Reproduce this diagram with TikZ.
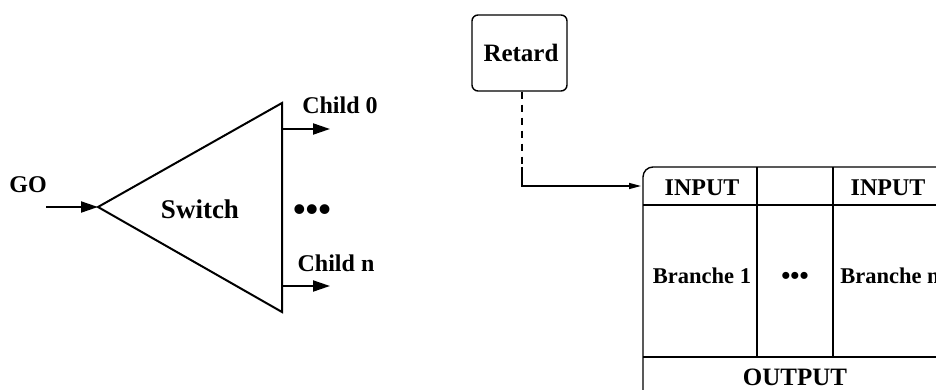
\documentclass[tikz,border=0pt]{standalone}
\usepackage{fontspec}
\setmainfont{Liberation Serif}
\usetikzlibrary{arrows.meta,positioning}
\begin{document}
\begin{tikzpicture}[x=1pt, y=-1pt, line width=1.4pt,
    lbl/.style={font=\bfseries\fontsize{24}{28}\selectfont, inner sep=0pt, anchor=base},
    bigarrow/.style={line width=2pt, -{Triangle[length=17pt, width=11pt]}},
    smallarrow/.style={line width=1.4pt, -{Triangle[length=12pt, width=6pt]}}]
  \useasboundingbox (0,0) rectangle (936,390);
  \clip (0,0) rectangle (936,390);
  % switch
  \coordinate (tritop) at (282,103);
  \coordinate (triapex) at (98,207);
  \coordinate (tribot) at (282,312);
  \draw[line width=2pt, line join=miter] (tritop) -- (triapex) -- (tribot) -- cycle;
  \node[lbl, font=\bfseries\fontsize{27}{30}\selectfont] (switch) at (200,218) {Switch};
  \node[lbl] (go) at (28,193) {GO};
  \coordinate (goin) at (46,207);
  \draw[bigarrow] (goin) -- (triapex);
  \coordinate (out0) at (282,129);
  \coordinate (outn) at (282,286);
  \node[lbl] (child0) at (340,114) {Child 0};
  \node[lbl] (childn) at (336,271) {Child n};
  \coordinate (end0) at (330,129);
  \coordinate (endn) at (330,286);
  \draw[bigarrow] (out0) -- (end0);
  \draw[bigarrow] (outn) -- (endn);
  \node[lbl, font=\bfseries\fontsize{36}{40}\selectfont] (dotsl) at (312,221) {•••};
  % retard
  \node[draw, rounded corners=6pt, minimum width=95pt, minimum height=76pt, inner sep=0pt] (retard) at (519.5,53) {};
  \node[lbl, font=\bfseries\fontsize{25}{28}\selectfont] (retardtxt) at (521,62) {Retard};
  \coordinate (dashend) at (522,167);
  \coordinate (bend) at (522,186);
  \coordinate (boxin) at (641,186);
  \draw[dash pattern=on 7pt off 6pt] (retard.south -| dashend) -- (dashend);
  \draw[smallarrow] (dashend) -- (bend) -- (boxin);
  % branches
  \draw[rounded corners=10pt] (643,400) -- (643,167) -- (960,167);
  \draw (643,205) -- (960,205);
  \draw (643,357) -- (960,357);
  \draw (757,167) -- (757,357);
  \draw (833,167) -- (833,357);
  \node[lbl] (input1) at (702,195) {INPUT};
  \node[lbl] (inputn) at (888,195) {INPUT};
  \node[lbl, font=\bfseries\fontsize{22.5}{26}\selectfont] (branche1) at (702,283) {Branche 1};
  \node[lbl, font=\bfseries\fontsize{22.5}{26}\selectfont] (branchen) at (890,283) {Branche n};
  \node[lbl, font=\bfseries\fontsize{26}{30}\selectfont] (dotsr) at (795,284) {•••};
  \node[lbl, font=\bfseries\fontsize{25}{28}\selectfont] (output) at (795,385) {OUTPUT};
\end{tikzpicture}
\end{document}
